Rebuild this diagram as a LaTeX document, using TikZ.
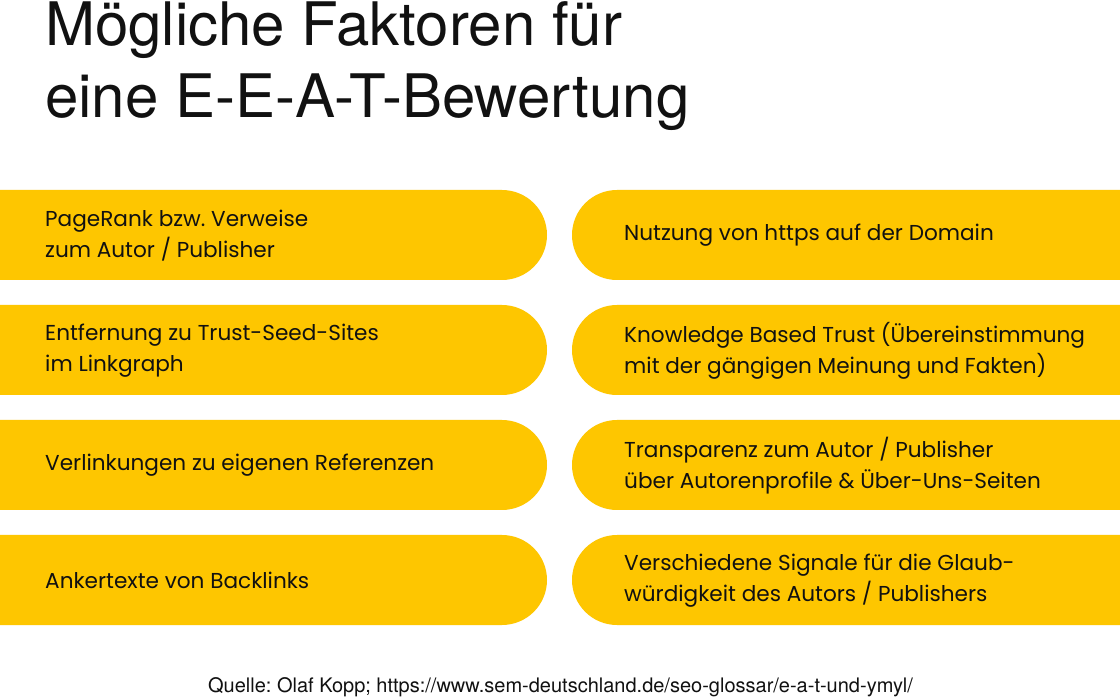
\documentclass[tikz,border=0pt]{standalone}
\usepackage{fontspec}
\setmainfont{TeX Gyre Heros}
\newfontfamily\boxfont{Poppins}
\usetikzlibrary{shapes.misc}
\definecolor{pillyellow}{HTML}{FEC600}
\definecolor{inkblack}{HTML}{111111}
\frenchspacing
\begin{document}
\begin{tikzpicture}[x=1pt,y=-1pt,
  pill/.style={rounded rectangle, fill=pillyellow, draw=none,
    minimum height=90pt, inner sep=0pt},
  leftpill/.style={pill, rounded rectangle west arc=none, minimum width=547pt},
  rightpill/.style={pill, rounded rectangle east arc=none, minimum width=548pt},
  label/.style={anchor=west, align=left, inner sep=0pt, text=inkblack,
    font=\boxfont\fontsize{21.6}{31}\selectfont},
  title/.style={anchor=base west, inner sep=0pt, text=inkblack,
    font=\fontsize{60}{72}\selectfont},
  source/.style={anchor=base, inner sep=0pt, text=inkblack,
    font=\fontsize{20}{24}\selectfont}]
\useasboundingbox (0,0) rectangle (1120,700);
\fill[white] (0,0) rectangle (1120,700);

% heading
\node[title] (t1) at (45,46) {Mögliche Faktoren für};
\node[title] (t2) at (45,118) {eine E-E-A-T-Bewertung};

% left column
\node[leftpill] (l1) at (273.5,235) {};
\node[leftpill] (l2) at (273.5,350) {};
\node[leftpill] (l3) at (273.5,465) {};
\node[leftpill] (l4) at (273.5,580) {};
% right column
\node[rightpill] (r1) at (846,235) {};
\node[rightpill] (r2) at (846,350) {};
\node[rightpill] (r3) at (846,465) {};
\node[rightpill] (r4) at (846,580) {};

\node[label] (lt1) at (45,236) {PageRank bzw. Verweise\\zum Autor / Publisher};
\node[label] (lt2) at (45,351) {Entfernung zu Trust-Seed-Sites\\im Linkgraph};
\node[label] (lt3) at (45,465) {Verlinkungen zu eigenen Referenzen};
\node[label] (lt4) at (45,580) {Ankertexte von Backlinks};

\node[label] (rt1) at (624,235) {Nutzung von https auf der Domain};
\node[label] (rt2) at (624,351) {Knowledge Based Trust (Übereinstimmung\\mit der gängigen Meinung und Fakten)};
\node[label] (rt3) at (624,466) {Transparenz zum Autor / Publisher\\über Autorenprofile \& Über-Uns-Seiten};
\node[label] (rt4) at (624,581) {Verschiedene Signale für die Glaub-\\würdigkeit des Autors / Publishers};

% source line
\node[source] (src) at (560.5,692) {Quelle: Olaf Kopp; https://www.sem-deutschland.de/seo-glossar/e-a-t-und-ymyl/};
\end{tikzpicture}
\end{document}
